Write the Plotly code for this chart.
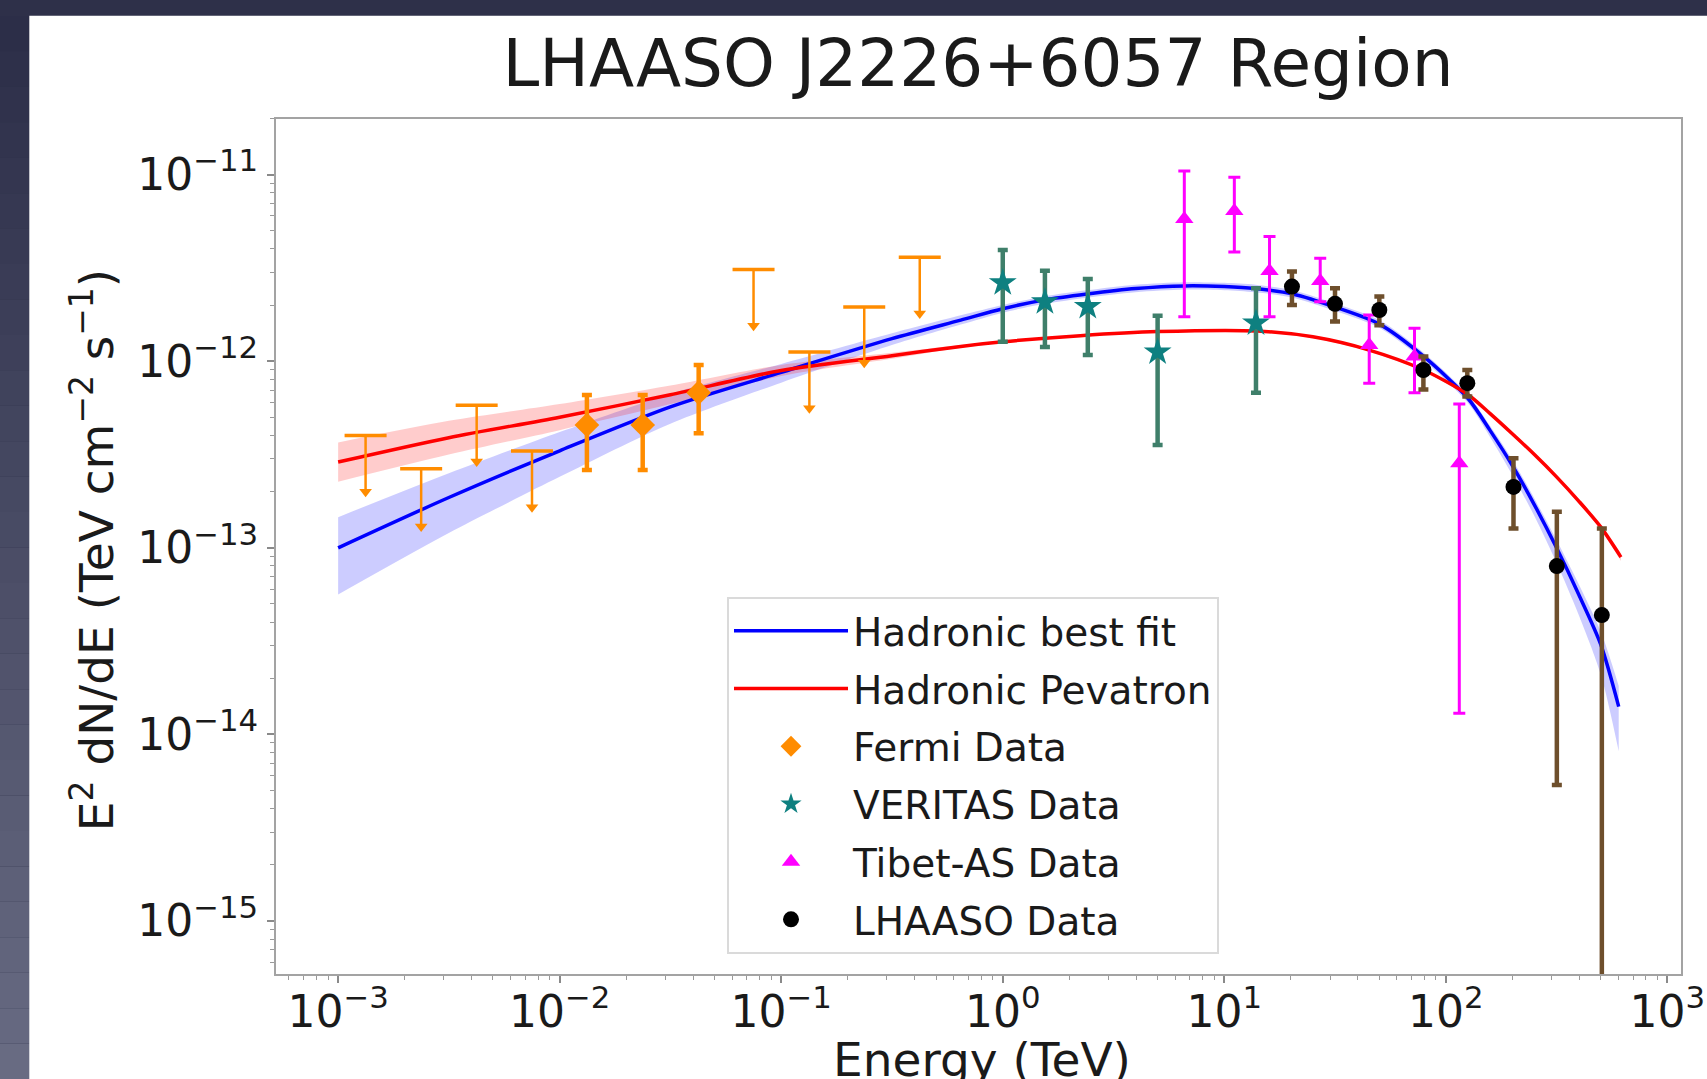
import plotly.graph_objects as go

# ---------------- data ----------------
# Fermi-LAT detections
fermi_E = [0.01327, 0.0237, 0.0424]
fermi_F = [4.55e-13, 4.55e-13, 6.78e-13]
fermi_hi = [6.59e-13, 6.59e-13, 9.55e-13]
fermi_lo = [2.61e-13, 2.61e-13, 4.11e-13]
# Fermi-LAT upper limits (value, and end of the downward arrow)
fermi_ul_E = [1.33e-3, 2.37e-3, 4.22e-3, 7.5e-3, 0.075, 0.134, 0.237, 0.422]
fermi_ul_F = [4.0e-13, 2.65e-13, 5.8e-13, 3.3e-13, 3.1e-12, 1.12e-12, 1.95e-12, 3.6e-12]
fermi_ul_end = [2.0e-13, 1.3e-13, 2.9e-13, 1.65e-13, 1.55e-12, 5.6e-13, 9.8e-13, 1.8e-12]

# VERITAS
veritas_E = [1.0, 1.55, 2.42, 5.0, 13.9]
veritas_F = [2.63e-12, 2.08e-12, 1.96e-12, 1.12e-12, 1.60e-12]
veritas_hi = [3.94e-12, 3.05e-12, 2.76e-12, 1.75e-12, 2.46e-12]
veritas_lo = [1.27e-12, 1.19e-12, 1.08e-12, 3.56e-13, 6.78e-13]

# Tibet-AS
tibet_E = [6.6, 11.1, 16.0, 27.1, 45.1, 72.2, 115.0]
tibet_F = [5.78e-12, 6.38e-12, 3.04e-12, 2.69e-12, 1.22e-12, 1.06e-12, 2.84e-13]
tibet_hi = [1.045e-11, 9.68e-12, 4.66e-12, 3.56e-12, 1.77e-12, 1.50e-12, 5.90e-13]
tibet_lo = [1.73e-12, 3.84e-12, 1.73e-12, 2.08e-12, 7.62e-13, 6.78e-13, 1.30e-14]

# LHAASO
lhaaso_E = [20.2, 31.6, 50.1, 79.2, 125.0, 202.0, 317.0, 506.0]
lhaaso_F = [2.51e-12, 2.03e-12, 1.88e-12, 8.97e-13, 7.62e-13, 2.12e-13, 7.98e-14, 4.36e-14]
lhaaso_hi = [3.02e-12, 2.46e-12, 2.22e-12, 1.06e-12, 8.97e-13, 3.02e-13, 1.56e-13, 1.27e-13]
lhaaso_lo = [2.00e-12, 1.63e-12, 1.56e-12, 7.06e-13, 6.46e-13, 1.27e-13, 5.36e-15, 1e-17]

# Hadronic best fit (blue) with its band
best_E = [1.0e-3, 3.16e-3, 1.0e-2, 3.16e-2, 0.1, 0.316, 0.646, 1.0, 1.55, 2.4, 3.98,
          6.61, 10.0, 13.8, 20.4, 32.4, 50.1, 79.4, 126.0, 158.0, 200.0, 251.0, 316.0,
          398.0, 501.0, 603.0]
best_F = [1.00e-13, 1.86e-13, 3.31e-13, 5.69e-13, 8.71e-13, 1.32e-12, 1.66e-12, 1.91e-12,
          2.13e-12, 2.29e-12, 2.45e-12, 2.53e-12, 2.51e-12, 2.45e-12, 2.29e-12, 1.93e-12,
          1.58e-12, 1.06e-12, 6.31e-13, 4.27e-13, 2.75e-13, 1.70e-13, 1.00e-13, 5.62e-14,
          3.02e-14, 1.41e-14]
best_up = [1.46e-13, 2.51e-13, 4.17e-13, 6.68e-13, 9.66e-13, 1.41e-12, 1.76e-12, 2.00e-12,
           2.23e-12, 2.40e-12, 2.57e-12, 2.65e-12, 2.63e-12, 2.57e-12, 2.40e-12, 2.02e-12,
           1.66e-12, 1.11e-12, 6.61e-13, 4.52e-13, 2.95e-13, 1.84e-13, 1.10e-13, 6.38e-14,
           3.55e-14, 1.82e-14]
best_dn = [5.62e-14, 1.20e-13, 2.40e-13, 4.62e-13, 7.67e-13, 1.22e-12, 1.57e-12, 1.82e-12,
           2.03e-12, 2.19e-12, 2.34e-12, 2.42e-12, 2.40e-12, 2.34e-12, 2.19e-12, 1.84e-12,
           1.51e-12, 1.01e-12, 5.96e-13, 3.94e-13, 2.45e-13, 1.48e-13, 8.32e-14, 4.37e-14,
           2.09e-14, 8.13e-15]

# Hadronic PeVatron (red) with its band
pev_E = [1.0e-3, 3.16e-3, 1.0e-2, 3.16e-2, 0.1, 0.316, 0.646, 1.0, 2.24, 5.01,
         14.1, 25.1, 44.7, 79.4, 126.0, 158.0, 200.0, 251.0, 316.0, 398.0, 501.0, 617.0]
pev_F = [2.88e-13, 3.89e-13, 5.01e-13, 6.61e-13, 8.91e-13, 1.07e-12, 1.20e-12, 1.27e-12,
         1.37e-12, 1.44e-12, 1.45e-12, 1.35e-12, 1.15e-12, 8.97e-13, 6.61e-13, 5.25e-13,
         4.07e-13, 3.16e-13, 2.40e-13, 1.78e-13, 1.29e-13, 8.91e-14]
pev_up = [3.67e-13, 4.79e-13, 5.89e-13, 7.41e-13, 9.55e-13, 1.11e-12, 1.22e-12, 1.29e-12,
          1.39e-12, 1.46e-12, 1.47e-12, 1.37e-12, 1.17e-12, 9.12e-13, 6.76e-13, 5.37e-13,
          4.17e-13, 3.24e-13, 2.46e-13, 1.83e-13, 1.33e-13, 9.33e-14]
pev_dn = [2.26e-13, 3.16e-13, 4.27e-13, 5.89e-13, 8.32e-13, 1.03e-12, 1.18e-12, 1.25e-12,
          1.35e-12, 1.42e-12, 1.43e-12, 1.33e-12, 1.13e-12, 8.81e-13, 6.46e-13, 5.13e-13,
          3.98e-13, 3.09e-13, 2.34e-13, 1.73e-13, 1.25e-13, 8.51e-14]

x_tick_vals = [1e-3, 1e-2, 1e-1, 1e0, 1e1, 1e2, 1e3]
x_tick_text = ["10<sup>\u22123</sup>", "10<sup>\u22122</sup>", "10<sup>\u22121</sup>",
               "10<sup>0</sup>", "10<sup>1</sup>", "10<sup>2</sup>", "10<sup>3</sup>"]
y_tick_vals = [1e-15, 1e-14, 1e-13, 1e-12, 1e-11]
y_tick_text = ["10<sup>\u221215</sup>", "10<sup>\u221214</sup>", "10<sup>\u221213</sup>",
               "10<sup>\u221212</sup>", "10<sup>\u221211</sup>"]

# ---------------- styles ----------------
ORANGE = "#ff8c00"
TEAL = "#0e8080"
TEAL_BAR = "#3f7f6a"
MAGENTA = "#ff00ff"
BROWN = "#6e4f2c"
FONT = "DejaVu Sans"
TXT = "#1a1a1a"
SMOOTH = 0.8


def plus(f, hi):
    return [h - v for v, h in zip(f, hi)]


def minus(f, lo):
    return [v - l for v, l in zip(f, lo)]


fig = go.Figure()

# bands
fig.add_trace(go.Scatter(x=best_E, y=best_dn, mode="lines",
                         line=dict(width=0, shape="spline", smoothing=SMOOTH),
                         showlegend=False, hoverinfo="skip"))
fig.add_trace(go.Scatter(x=best_E, y=best_up, mode="lines",
                         line=dict(width=0, shape="spline", smoothing=SMOOTH),
                         fill="tonexty", fillcolor="rgba(0,0,255,0.2)", showlegend=False,
                         hoverinfo="skip"))
fig.add_trace(go.Scatter(x=pev_E, y=pev_dn, mode="lines",
                         line=dict(width=0, shape="spline", smoothing=SMOOTH),
                         showlegend=False, hoverinfo="skip"))
fig.add_trace(go.Scatter(x=pev_E, y=pev_up, mode="lines",
                         line=dict(width=0, shape="spline", smoothing=SMOOTH),
                         fill="tonexty", fillcolor="rgba(255,0,0,0.2)", showlegend=False,
                         hoverinfo="skip"))

# model lines
fig.add_trace(go.Scatter(x=best_E, y=best_F, mode="lines", name="Hadronic best fit",
                         line=dict(color="#0000ff", width=3.5, shape="spline", smoothing=SMOOTH),
                         legendgroup="a"))
fig.add_trace(go.Scatter(x=pev_E, y=pev_F, mode="lines", name="Hadronic Pevatron",
                         line=dict(color="#ff0000", width=3.5, shape="spline", smoothing=SMOOTH),
                         legendgroup="b"))

# Fermi upper limits
fig.add_trace(go.Scatter(
    x=fermi_ul_E, y=fermi_ul_F, mode="markers", showlegend=False,
    marker=dict(symbol="line-ew", size=30, color=ORANGE, line=dict(color=ORANGE, width=3.5)),
    error_y=dict(type="data", symmetric=False, array=[0] * len(fermi_ul_F),
                 arrayminus=minus(fermi_ul_F, fermi_ul_end), width=0, thickness=2.5,
                 color=ORANGE)))
fig.add_trace(go.Scatter(
    x=fermi_ul_E, y=fermi_ul_end, mode="markers", showlegend=False,
    marker=dict(symbol="triangle-down", size=11, color=ORANGE)))

# Fermi points
fig.add_trace(go.Scatter(
    x=fermi_E, y=fermi_F, mode="markers", name="Fermi Data", legendgroup="c",
    marker=dict(symbol="diamond", size=19, color=ORANGE),
    error_y=dict(type="data", symmetric=False, array=plus(fermi_F, fermi_hi),
                 arrayminus=minus(fermi_F, fermi_lo), width=5, thickness=4.5, color=ORANGE)))

# VERITAS
fig.add_trace(go.Scatter(
    x=veritas_E, y=veritas_F, mode="markers", name="VERITAS Data", legendgroup="d",
    marker=dict(symbol="star", size=21, color=TEAL),
    error_y=dict(type="data", symmetric=False, array=plus(veritas_F, veritas_hi),
                 arrayminus=minus(veritas_F, veritas_lo), width=5, thickness=4.5,
                 color=TEAL_BAR)))

# Tibet-AS
fig.add_trace(go.Scatter(
    x=tibet_E, y=tibet_F, mode="markers", name="Tibet-AS Data", legendgroup="e",
    marker=dict(symbol="triangle-up", size=16, color=MAGENTA),
    error_y=dict(type="data", symmetric=False, array=plus(tibet_F, tibet_hi),
                 arrayminus=minus(tibet_F, tibet_lo), width=6, thickness=3, color=MAGENTA)))

# LHAASO
fig.add_trace(go.Scatter(
    x=lhaaso_E, y=lhaaso_F, mode="markers", name="LHAASO Data", legendgroup="f",
    marker=dict(symbol="circle", size=16, color="black"),
    error_y=dict(type="data", symmetric=False, array=plus(lhaaso_F, lhaaso_hi),
                 arrayminus=minus(lhaaso_F, lhaaso_lo), width=5, thickness=4.5, color=BROWN)))

# ---------------- layout ----------------
L, R, T, B = 275, 25, 118, 104
W, H = 1707, 1079
PW, PH = W - L - R, H - T - B


def px(xp):
    return (xp - L) / PW


def py(yp):
    return (H - B - yp) / PH


minor_x = [m * 10.0 ** k for k in range(-4, 3) for m in range(2, 10)]
minor_y = [m * 10.0 ** k for k in range(-16, -10) for m in range(2, 10)]

shapes = []
# slide background pieces
shapes.append(dict(type="rect", xref="paper", yref="paper", x0=px(0), x1=px(W), y0=py(H), y1=py(0),
                   fillcolor="#2e3049", line=dict(width=0), layer="below"))
n = 30
for i in range(n):
    t = i / (n - 1)
    r = int(0x2c + (0x68 - 0x2c) * t)
    g = int(0x2e + (0x6b - 0x2e) * t)
    b = int(0x48 + (0x82 - 0x48) * t)
    shapes.append(dict(type="rect", xref="paper", yref="paper", x0=px(0), x1=px(30),
                       y0=py(16 + (H - 16) * (i + 1) / n), y1=py(16 + (H - 16) * i / n),
                       fillcolor="rgb(%d,%d,%d)" % (r, g, b), line=dict(width=0), layer="below"))
shapes.append(dict(type="rect", xref="paper", yref="paper", x0=px(29.3), x1=px(W + 5),
                   y0=py(H + 5), y1=py(15.7), fillcolor="white", line=dict(width=0),
                   layer="below"))
# frame
shapes.append(dict(type="rect", xref="paper", yref="paper", x0=0, x1=1, y0=0, y1=1,
                   line=dict(color="#a3a3a3", width=2), layer="above"))

axis_common = dict(type="log", showgrid=False, zeroline=False, showline=False,
                   ticks="outside", ticklen=7, tickwidth=1.5, tickcolor="#8a8a8a",
                   tickfont=dict(family=FONT, size=44, color=TXT), tickmode="array")

fig.update_layout(
    width=W, height=H,
    margin=dict(l=L, r=R, t=T, b=B, autoexpand=False),
    paper_bgcolor="#2e3049", plot_bgcolor="white",
    shapes=shapes,
    title=dict(text="LHAASO J2226+6057 Region", x=px(978), xref="paper", xanchor="center",
               y=1 - 63 / H, yref="container", yanchor="middle",
               font=dict(family=FONT, size=66, color=TXT)),
    xaxis=dict(range=[-3.285, 3.066], tickvals=x_tick_vals, ticktext=x_tick_text,
               ticklabelstandoff=-9,
               minor=dict(tickmode="array", tickvals=minor_x, ticks="outside", ticklen=4,
                          tickwidth=1, tickcolor="#9a9a9a"),
               **axis_common),
    yaxis=dict(range=[-15.289, -10.697], tickvals=y_tick_vals, ticktext=y_tick_text,
               ticklabelstandoff=0,
               minor=dict(tickmode="array", tickvals=minor_y, ticks="outside", ticklen=4,
                          tickwidth=1, tickcolor="#9a9a9a"),
               **axis_common),
    legend=dict(x=px(727), y=py(597), xanchor="left", yanchor="top",
                bgcolor="rgba(255,255,255,0.85)", bordercolor="#dadada", borderwidth=2,
                font=dict(family=FONT, size=39, color=TXT), traceorder="grouped",
                tracegroupgap=4, itemwidth=114),
    annotations=[
        dict(text="E<sup>2</sup> dN/dE (TeV cm<sup>\u22122</sup> s<sup>\u22121</sup>)",
             textangle=-90, xref="paper", yref="paper", x=px(92.5), y=py(549.7),
             xanchor="center", yanchor="middle", showarrow=False,
             font=dict(family=FONT, size=47, color=TXT)),
        dict(text="Energy (TeV)", xref="paper", yref="paper", x=px(982), y=py(1059),
             xanchor="center", yanchor="middle", showarrow=False,
             font=dict(family=FONT, size=47, color=TXT)),
    ],
)

fig.write_html("out.html")
